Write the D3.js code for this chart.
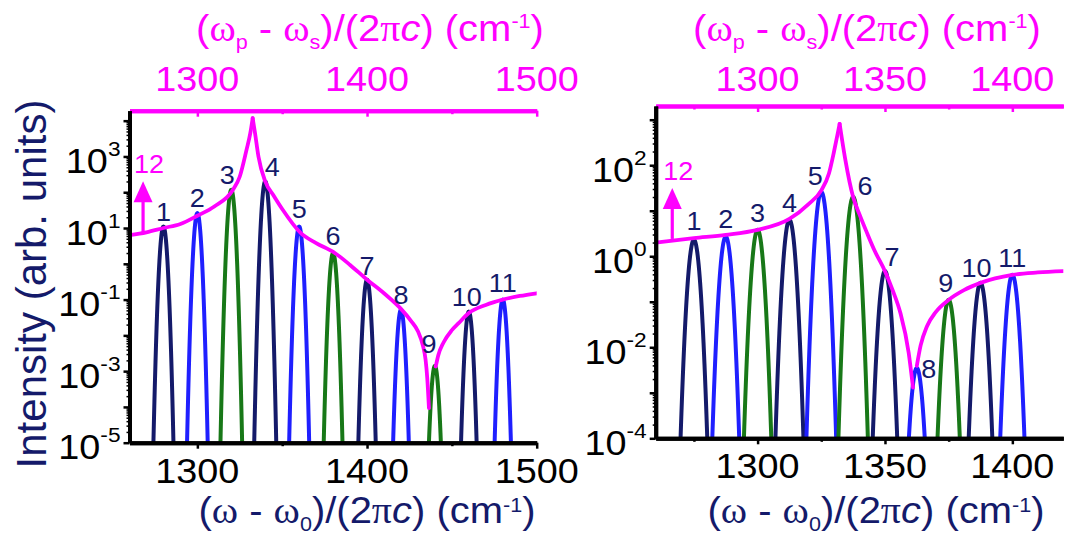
<!DOCTYPE html>
<html>
<head>
<meta charset="utf-8">
<script src="https://cdn.jsdelivr.net/npm/d3@7"></script>
<style>
body { margin: 0; background: #fff; }
svg text { font-family: "Liberation Sans", Arial, sans-serif; }
</style>
</head>
<body>
<svg id="chart" width="1077" height="543"></svg>
<script>
// ---- values ----
// pulse labels and colour cycle (navy, blue, green)
var peakLabels = ["1","2","3","4","5","6","7","8","9","10","11"];
var peakColorIdx = [0,1,2,0,1,2,0,1,2,0,1];

// left panel: pulse centres (cm^-1) and peak intensities
var leftCenters = [1280,1300,1320,1340,1360,1380,1400,1420,1440,1460,1480];
var leftHeights = [11,26,117,200,11,2.0,0.36,0.052,0.0014,0.046,0.1];
var leftSigma = 1.12;
// left panel magenta response curve, two branches
var leftEnvAX = [1260,1270,1280,1290,1300,1310,1321,1325,1329,1331.2,1332.6,1334,1336,1340,1345,1350,1361,1370,1381,1390,1400,1410,1420,1426,1430,1433,1434.5,1435.5,1436.5];
var leftEnvAY = [6.3,7.6,10,13,22,40,117,275,1550,4470,11700,4470,1000,200,80,34,7.2,3.8,2.0,0.93,0.36,0.15,0.055,0.025,0.013,0.005,0.0021,0.00063,0.000093];
var leftEnvBX = [1440.5,1442,1445,1450,1454,1460,1470,1480,1490,1500];
var leftEnvBY = [0.00135,0.0028,0.0062,0.014,0.022,0.042,0.071,0.1,0.126,0.15];
var leftArrow = [1268, 7.6];
var leftXTicks = [1300,1400,1500];
var leftXMinor = [1350,1450];
var leftYLabels = [1e-5,1e-3,1e-1,1e1,1e3];

// right panel
var rightCenters = [1275,1287.5,1300,1312.5,1325,1337.5,1350,1362.5,1375,1387.5,1400];
var rightHeights = [2.3,2.7,3.8,6.3,26,20,0.47,0.0035,0.11,0.26,0.39];
var rightSigma = 1.17;
var rightEnvAX = [1260,1275,1287.5,1300,1312.5,1320,1325,1328,1330,1331.3,1332.2,1333.2,1334.5,1337.5,1340,1343,1346,1350,1353,1356,1359.3,1361];
var rightEnvAY = [2.0,2.5,2.95,3.8,6.6,14,28,66,200,450,810,350,126,20,8.3,3.2,1.3,0.47,0.18,0.058,0.0076,0.0013];
var rightEnvBX = [1362.5,1364,1366.5,1370,1375,1381,1387.5,1400,1410,1420];
var rightEnvBY = [0.0039,0.011,0.029,0.06,0.11,0.18,0.26,0.39,0.44,0.47];
var rightArrow = [1266.5, 2.4];
var rightXTicks = [1300,1350,1400];
var rightXMinor = [1275,1325,1375];
var rightYLabels = [1e-4,1e-2,1,1e2];

// ---- styles ----
var navy = "#141a6a", blue = "#1f1fff", green = "#187818", mag = "#ff00ff";
var peakColors = [navy, blue, green];
var SX = 1.08; // text in the figure is a little wide
var serif = "'Liberation Serif','DejaVu Serif',serif";

var svg = d3.select("#chart");

function txt(g, x, y, anchor, size, color)
{
	return g.append("text")
		.attr("transform", "translate(" + x + "," + y + ") scale(" + SX + ",1)")
		.attr("text-anchor", anchor)
		.attr("font-size", size)
		.attr("fill", color);
}

function richText(t, parts, small, supUp)
{
	var shift = 0;
	parts.forEach(function(p){
		var s = t.append("tspan").text(p.t);
		var want = p.sub ? 8 : (p.sup ? -supUp : 0);
		if(want != shift) { s.attr("dy", want - shift); shift = want; }
		if(p.sub || p.sup) s.attr("font-size", small);
		if(p.serif) s.attr("font-family", serif);
		if(p.it) s.attr("font-style", "italic");
	});
}

function titleParts(bottom)
{
	if(bottom)
		return [{t:"("},{t:"\u03c9",serif:1},{t:" - "},{t:"\u03c9",serif:1},{t:"0",sub:1},{t:")/(2"},
			{t:"\u03c0",serif:1},{t:"c",it:1},{t:") (cm"},{t:"-1",sup:1},{t:")"}];
	return [{t:"("},{t:"\u03c9",serif:1},{t:"p",sub:1},{t:" - "},{t:"\u03c9",serif:1},{t:"s",sub:1},{t:")/(2"},
		{t:"\u03c0",serif:1},{t:"c",it:1},{t:") (cm"},{t:"-1",sup:1},{t:")"}];
}

function styleAxis(sel, color)
{
	sel.select(".domain").attr("stroke", color).attr("stroke-width", 4);
	sel.selectAll(".tick line").attr("stroke", color).attr("stroke-width", 2.5);
	sel.selectAll(".tick text").remove();
}

function drawPanel(p)
{
	var x = d3.scaleLinear().domain(p.xDomain).range([p.left, p.right]);
	var y = d3.scaleLog().domain(p.yDomain).range([p.bottom, p.top]);
	var g = svg.append("g");

	g.append("clipPath").attr("id", "clip" + p.name)
		.append("rect")
		.attr("x", p.left).attr("y", p.top)
		.attr("width", p.right - p.left).attr("height", p.bottom - p.top);
	var plot = g.append("g").attr("clip-path", "url(#clip" + p.name + ")");

	var line = d3.line().x(function(d){ return x(d[0]); }).y(function(d){ return y(d[1]); });

	// pulses, gaussian lineshape around each centre
	p.centers.forEach(function(c, i){
		var h = p.heights[i];
		var half = p.sigma * Math.sqrt(2 * Math.log(h / p.yDomain[0])) * 1.08;
		var pts = d3.range(0, 61).map(function(k){
			var xx = c - half + 2 * half * k / 60;
			return [xx, h * Math.exp(-(xx - c) * (xx - c) / (2 * p.sigma * p.sigma))];
		});
		plot.append("path").datum(pts)
			.attr("d", line)
			.attr("fill", "none")
			.attr("stroke", peakColors[p.colorIdx[i]])
			.attr("stroke-width", 4)
			.attr("stroke-linejoin", "round");
	});

	// magenta curve: split at the cusp so the tip stays sharp
	var mline = d3.line().curve(d3.curveMonotoneX)
		.x(function(d){ return x(d[0]); }).y(function(d){ return y(d[1]); });
	p.env.forEach(function(br){
		var pts = br[0].map(function(v, k){ return [v, br[1][k]]; });
		var im = d3.maxIndex(pts, function(d){ return d[1]; });
		var pieces = (im > 0 && im < pts.length - 1) ? [pts.slice(0, im + 1), pts.slice(im)] : [pts];
		pieces.forEach(function(pc){
			plot.append("path").datum(pc)
				.attr("d", mline)
				.attr("fill", "none")
				.attr("stroke", mag)
				.attr("stroke-width", 3.8)
				.attr("stroke-linecap", "round");
		});
	});

	// peak labels
	p.centers.forEach(function(c, i){
		var n = p.nudge[i] || [0, 0];
		txt(g, x(c) + n[0], y(p.heights[i]) - 6 + n[1], "middle", 25, navy).text(peakLabels[i]);
	});

	// arrow "12"
	var ax = x(p.arrow[0]), ay = y(p.arrow[1]), tip = ay - 51;
	g.append("line").attr("x1", ax).attr("x2", ax).attr("y1", ay).attr("y2", tip + 15)
		.attr("stroke", mag).attr("stroke-width", 3.2);
	g.append("path")
		.attr("d", "M" + ax + "," + tip + "L" + (ax - 9.5) + "," + (tip + 21) + "L" + (ax + 9.5) + "," + (tip + 21) + "Z")
		.attr("fill", mag);
	txt(g, ax - 9, tip - 8, "start", 25, mag).text("12");

	// axes
	var bAxis = g.append("g").attr("transform", "translate(0," + p.bottom + ")")
		.call(d3.axisBottom(x).tickValues(p.xTicks).tickSize(6).tickSizeOuter(0));
	styleAxis(bAxis, "#000");
	var bMinor = g.append("g").attr("transform", "translate(0," + p.bottom + ")")
		.call(d3.axisBottom(x).tickValues(p.xMinor).tickSize(3.5).tickSizeOuter(0));
	styleAxis(bMinor, "#000");

	var tAxis = g.append("g").attr("transform", "translate(0," + p.top + ")")
		.call(d3.axisBottom(x).tickValues(p.xTicks).tickSize(6).tickSizeOuter(0));
	styleAxis(tAxis, mag);
	var tMinor = g.append("g").attr("transform", "translate(0," + p.top + ")")
		.call(d3.axisBottom(x).tickValues(p.xMinor).tickSize(3.5).tickSizeOuter(0));
	styleAxis(tMinor, mag);

	var lo = Math.round(Math.log10(p.yDomain[0]));
	var hi = Math.floor(Math.log10(p.yDomain[1]));
	var decades = d3.range(lo, hi + 1).map(function(e){ return Math.pow(10, e); });
	var minors = [];
	decades.forEach(function(d){
		for(var m = 2; m < 10; m++) if(m * d < p.yDomain[1]) minors.push(m * d);
	});
	var lAxis = g.append("g").attr("transform", "translate(" + p.left + ",0)")
		.call(d3.axisLeft(y).tickValues(decades).tickSize(6).tickSizeOuter(0));
	styleAxis(lAxis, "#000");
	var lMinor = g.append("g").attr("transform", "translate(" + p.left + ",0)")
		.call(d3.axisLeft(y).tickValues(minors).tickSize(3).tickSizeOuter(0));
	styleAxis(lMinor, "#000");
	lMinor.selectAll(".tick line").attr("stroke-width", 1.5);

	// tick labels
	p.xTicks.forEach(function(v){
		txt(g, x(v), p.bottom + 40, "middle", 35, "#000").text(v);
		txt(g, x(v), 91, "middle", 35, mag).text(v);
	});
	p.yLabels.forEach(function(v){
		var e = Math.round(Math.log10(v));
		var t = txt(g, p.left - 9, y(v) + 16.5, "end", 35, "#000");
		richText(t, [{t:"10"},{t:String(e),sup:1}], 21, 17);
	});

	// axis titles
	richText(txt(g, p.topTitleX, 41, "middle", 37, mag), titleParts(false), 20, 13);
	richText(txt(g, p.botTitleX, 523, "middle", 37, navy), titleParts(true), 20, 11);
}

drawPanel({
	name: "L", left: 129.5, right: 536.7, top: 110.7, bottom: 442.7,
	xDomain: [1260, 1500], yDomain: [1e-5, 1.9e4],
	centers: leftCenters, heights: leftHeights, sigma: leftSigma, colorIdx: peakColorIdx,
	env: [[leftEnvAX, leftEnvAY], [leftEnvBX, leftEnvBY]],
	arrow: leftArrow, xTicks: leftXTicks, xMinor: leftXMinor, yLabels: leftYLabels,
	nudge: [[0,0],[0,0],[-4,0],[7,1],[0,-3],[0,-2],[0,1],[0,0],[-6,-7],[-2,0],[0,-2]],
	topTitleX: 370, botTitleX: 367
});

drawPanel({
	name: "R", left: 655.7, right: 1063.3, top: 106, bottom: 438.3,
	xDomain: [1260, 1420], yDomain: [1e-4, 2e3],
	centers: rightCenters, heights: rightHeights, sigma: rightSigma, colorIdx: peakColorIdx,
	env: [[rightEnvAX, rightEnvAY], [rightEnvBX, rightEnvBY]],
	arrow: rightArrow, xTicks: rightXTicks, xMinor: rightXMinor, yLabels: rightYLabels,
	nudge: [[0,-4],[0,-3],[0,-2],[0,-2],[-6,-1],[12,4],[7,1],[12,16],[-3,-2],[-4,0],[0,-2]],
	topTitleX: 867, botTitleX: 876
});

// shared y title
svg.append("text")
	.attr("transform", "translate(46,284) rotate(-90)")
	.attr("text-anchor", "middle")
	.attr("font-size", 42)
	.attr("fill", navy)
	.text("Intensity (arb. units)");
</script>
</body>
</html>
